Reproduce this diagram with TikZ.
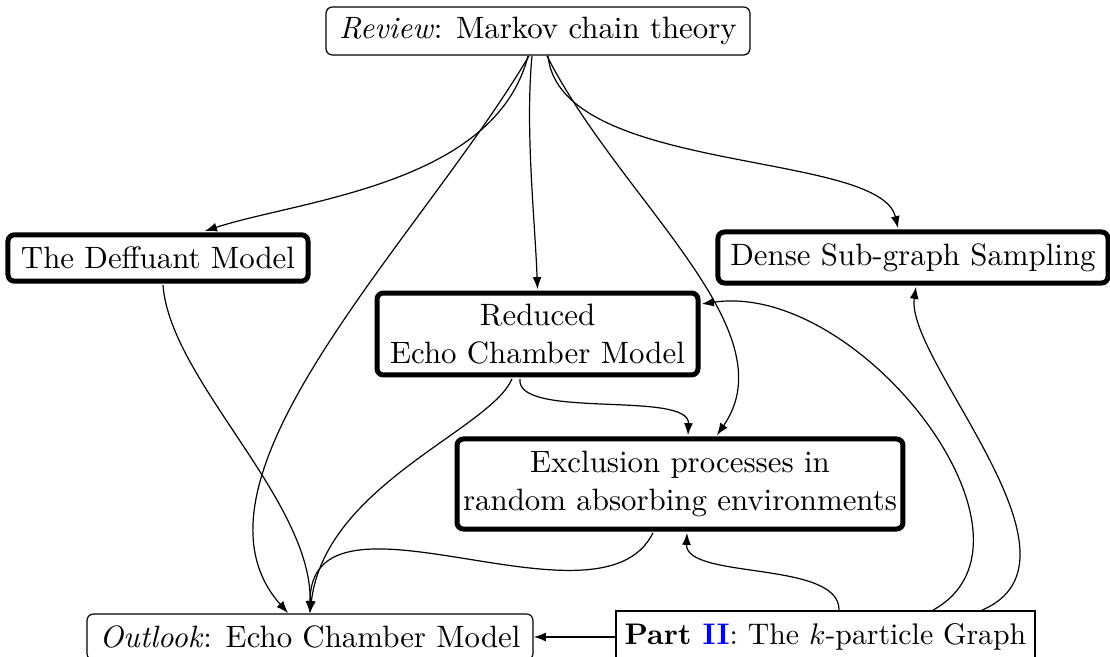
\documentclass[tikz,border=0pt]{standalone}
\usepackage{fontspec}
\usetikzlibrary{arrows.meta,calc}
\begin{document}
\begin{tikzpicture}[x=0.5pt,y=-0.5pt,
  base/.style={font=\fontsize{10}{12.3}\selectfont, align=center, inner sep=0pt, scale=1.544, transform shape},
  thinbox/.style={base, draw, line width=0.6pt, rounded corners=3.2pt},
  thickbox/.style={base, draw, line width=2.5pt, rounded corners=3.2pt},
  sqbox/.style={base, draw, line width=0.6pt},
  conn/.style={line width=0.6pt, -{Latex[length=6pt,width=4.5pt]}}]
\useasboundingbox (0,0) rectangle (1110,657);

\node[thinbox, minimum width=137.3pt, minimum height=15.54pt] (rev) at (538,31) {\textit{Review}: Markov chain theory};
\node[thickbox, minimum width=97.15pt, minimum height=15.0pt] (def) at (158,258) {The Deffuant Model};
\node[thickbox, minimum width=126.3pt, minimum height=16.52pt] (dense) at (913,257.5) {Dense Sub-graph Sampling};
\node[thickbox, minimum width=103.95pt, minimum height=26.55pt] (red) at (537.5,334) {Reduced\\Echo Chamber Model};
\node[thickbox, minimum width=144.4pt, minimum height=29.15pt] (exc) at (680,484) {Exclusion processes in\\random absorbing environments};
\node[thinbox, minimum width=144.4pt, minimum height=14.9pt] (out) at (310,637) {\textit{Outlook}: Echo Chamber Model};
\node[sqbox, scale=0.965, minimum width=140.6pt, minimum height=17.45pt] (part) at (825.5,637) {\textbf{Part \textcolor{blue}{II}}: The $k$-particle Graph};

\draw[conn] ([xshift=-5pt]rev.south) .. controls (495,185) and (300,200) .. ([xshift=23.5pt]def.north);
\draw[conn] ([xshift=-3pt]rev.south) .. controls (525,130) and (535,220) .. (red.north);
\draw[conn] ([xshift=-4.5pt]rev.south) .. controls (420,240) and (170,480) .. ([xshift=-11pt]out.north);
\draw[conn] ([xshift=2.5pt]def.south) .. controls (170,380) and (312,500) .. (out.north);
\draw[conn] ([xshift=-12.75pt]red.south) .. controls (490,430) and (325,485) .. (out.north);
\draw[conn] ([xshift=-13.5pt]exc.south) .. controls (600,640) and (310,470) .. (out.north);
\draw[conn] ([xshift=-8.75pt]red.south) .. controls (515,420) and (690,390) .. ([xshift=4pt]exc.north);
\draw[conn] ([xshift=4.5pt]rev.south) .. controls (620,200) and (790,330) .. ([xshift=18.5pt]exc.north);
\draw[conn] ([xshift=5pt]rev.south) .. controls (560,175) and (880,150) .. ([xshift=-7.5pt]dense.north);
\draw[conn] ([xshift=6.75pt]part.north) .. controls (840,560) and (685,580) .. ([xshift=3.5pt]exc.south);
\draw[conn] ([xshift=53.75pt]part.north) .. controls (1060,540) and (860,280) .. ([yshift=15pt]red.east);
\draw[conn] ([xshift=78.25pt]part.north) .. controls (1100,560) and (905,360) .. ([xshift=1.5pt]dense.south);
\draw[conn] (part) -- (out);
\end{tikzpicture}
\end{document}
